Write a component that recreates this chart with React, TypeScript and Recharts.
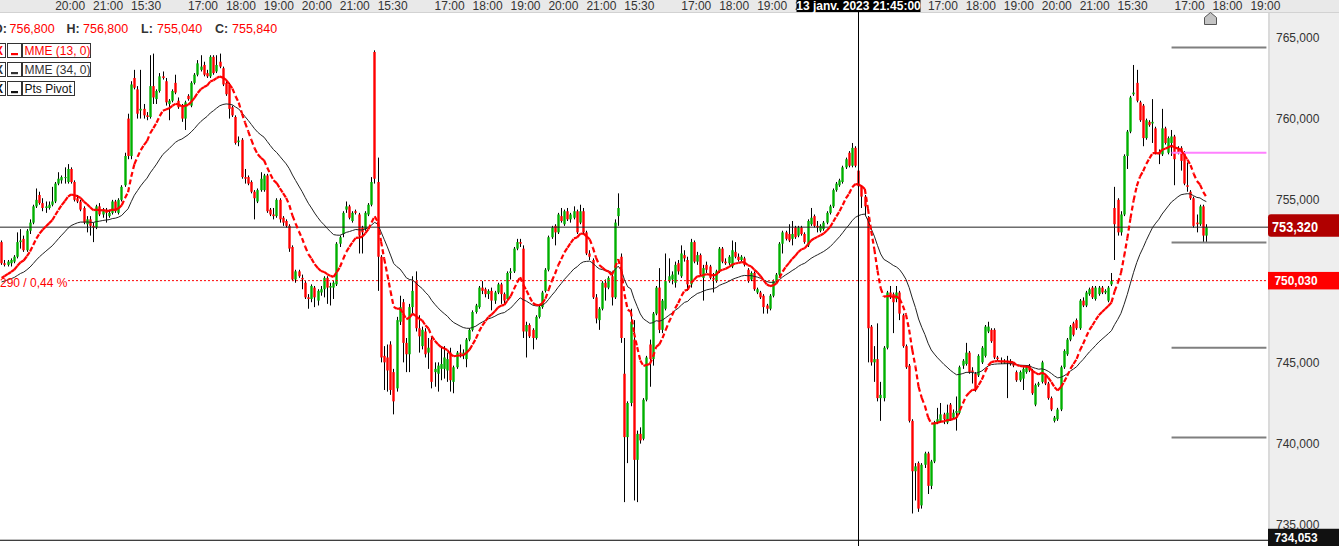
import React from "react";
import { ComposedChart, Bar, Line, XAxis, YAxis, ReferenceLine } from "recharts";

// 5 min candles, [open, high, low, close]
type Ohlc = [number, number, number, number];

const RED = "#ff0000";
const GREEN = "#00b000";
const FONT = 'Arial, "Liberation Sans", sans-serif';

const WIDTH = 1339;
const HEIGHT = 546;
const SLOTS = 401; // candles + empty future slots up to the right axis

// ── sessions ────────────────────────────────────────────────────────────────

// 10 janv. 18:40 -> 21:55
const jan10: Ohlc[] = [
  [752.4, 752.5, 751.0, 751.1], [751.1, 751.3, 750.9, 751.0], [751.0, 751.3, 750.9, 751.2], [751.1, 751.4, 750.9, 751.3],
  [751.2, 751.6, 751.1, 751.5], [751.5, 753.0, 751.4, 752.4], [752.4, 753.2, 752.0, 752.5], [752.6, 752.8, 751.8, 751.9],
  [751.9, 753.2, 751.8, 753.1], [753.1, 753.8, 752.9, 753.6], [753.6, 754.7, 753.5, 754.6], [754.6, 755.7, 754.5, 755.0],
  [755.3, 755.5, 754.7, 754.8], [754.8, 755.1, 754.3, 754.5], [754.5, 754.9, 754.2, 754.6], [754.5, 754.9, 754.4, 754.7],
  [754.7, 755.8, 754.6, 754.9], [754.9, 756.1, 754.8, 756.0], [756.0, 756.7, 755.9, 756.3], [756.2, 756.5, 756.0, 756.4],
  [756.4, 757.0, 756.0, 756.4], [756.1, 757.2, 756.0, 756.9], [756.9, 757.0, 756.0, 756.1], [756.1, 756.2, 754.9, 755.0],
  [755.1, 755.3, 754.8, 754.9], [754.9, 755.0, 754.3, 754.4], [754.5, 754.6, 753.5, 753.6], [753.5, 754.0, 753.0, 753.8],
  [753.8, 754.0, 752.8, 753.4], [753.4, 753.6, 752.4, 753.3], [753.3, 754.7, 753.2, 754.6], [754.6, 754.8, 754.0, 754.1],
  [754.1, 754.5, 753.9, 754.4], [754.3, 754.5, 753.6, 754.2], [754.0, 754.4, 753.9, 754.2], [754.2, 755.0, 754.1, 754.9],
  [754.9, 755.0, 754.2, 754.3], [754.2, 755.1, 754.1, 755.0], [755.0, 755.9, 754.9, 755.8], [755.9, 757.9, 755.8, 757.7],
];

// 11 janv. 15:30 -> 21:55
const jan11: Ohlc[] = [
  [760.0, 760.3, 757.5, 757.7], [757.7, 762.3, 757.5, 762.1], [762.5, 763.0, 761.8, 761.9], [761.8, 762.0, 760.0, 760.3],
  [760.5, 763.0, 760.0, 760.6], [760.6, 760.9, 760.0, 760.2], [760.2, 760.4, 759.9, 760.1], [760.1, 763.9, 760.0, 762.0],
  [762.0, 764.0, 760.9, 761.3], [761.2, 761.8, 760.9, 761.7], [761.7, 762.8, 761.6, 762.6], [762.6, 762.9, 762.4, 762.5],
  [762.3, 762.5, 760.8, 761.0], [760.9, 761.2, 759.9, 761.1], [761.1, 761.8, 761.0, 761.7], [762.2, 762.7, 761.5, 761.6],
  [761.1, 761.3, 760.6, 760.7], [760.8, 760.9, 759.8, 760.0], [760.0, 761.1, 759.3, 761.0], [761.4, 761.5, 761.1, 761.2],
  [760.8, 762.3, 760.7, 762.2], [762.2, 762.8, 762.1, 762.7], [762.7, 763.6, 762.6, 763.4], [763.0, 763.9, 762.9, 763.2],
  [763.3, 763.5, 762.6, 762.7], [762.8, 763.0, 762.5, 762.6], [762.6, 763.9, 762.5, 763.8], [763.8, 763.9, 762.7, 762.8],
  [762.9, 763.9, 762.8, 763.3], [763.5, 764.0, 763.1, 763.2], [763.1, 763.2, 762.0, 762.1], [762.2, 762.4, 761.4, 761.5],
  [762.1, 762.2, 760.0, 760.6], [760.7, 760.8, 760.1, 760.2], [760.1, 760.2, 758.4, 758.5], [758.55, 758.9, 758.3, 758.65],
  [758.7, 758.8, 756.3, 756.4], [756.4, 756.9, 756.0, 756.3], [756.4, 756.5, 755.9, 756.0], [756.1, 756.2, 755.4, 755.5],
  [755.5, 755.6, 753.8, 755.1], [754.9, 755.7, 754.8, 755.6], [755.6, 756.7, 755.5, 756.3], [755.6, 756.6, 755.5, 756.5],
  [756.5, 756.6, 754.2, 754.3], [754.4, 754.5, 754.0, 754.1], [754.1, 754.5, 753.8, 754.0], [754.0, 755.1, 753.9, 755.0],
  [755.0, 755.1, 753.6, 753.8], [753.9, 754.0, 753.4, 753.6], [753.7, 753.8, 753.3, 753.4], [753.4, 753.5, 751.8, 752.0],
  [752.1, 752.2, 750.0, 750.1], [750.1, 750.7, 749.9, 750.6], [750.6, 750.7, 750.2, 750.3], [750.2, 750.4, 749.5, 750.1],
  [749.9, 750.0, 748.9, 749.0], [749.0, 749.2, 748.3, 748.9], [748.9, 749.8, 748.7, 749.7], [749.6, 749.7, 748.4, 749.0],
  [748.8, 749.5, 748.5, 749.4], [749.3, 749.7, 749.1, 749.5], [749.5, 750.3, 749.0, 750.2], [750.2, 750.3, 748.6, 749.6],
  [749.6, 749.9, 748.5, 749.7], [749.6, 750.0, 748.9, 749.9], [749.8, 752.4, 749.7, 752.3], [752.3, 752.8, 752.1, 752.7],
  [752.9, 754.3, 752.7, 754.2], [754.4, 754.9, 754.2, 754.6], [754.6, 754.7, 753.8, 753.9], [753.7, 754.3, 753.6, 754.2],
  [754.3, 754.4, 754.1, 754.2], [754.1, 754.2, 751.7, 752.8], [753.3, 753.4, 751.7, 753.0], [753.2, 754.3, 753.1, 754.2],
  [754.1, 754.8, 754.0, 754.7], [754.7, 756.4, 754.6, 756.1],
];

// 12 janv.
const jan12: Ohlc[] = [
  [764.1, 764.2, 756.0, 756.3], [756.1, 757.6, 749.4, 751.5], [751.5, 751.6, 745.0, 745.3], [745.4, 746.0, 743.3, 745.0],
  [745.3, 746.1, 743.2, 744.5], [746.1, 746.3, 743.0, 743.3], [744.4, 744.6, 741.8, 742.6], [743.4, 747.8, 743.2, 747.6],
  [747.5, 749.1, 747.3, 748.4], [748.7, 748.9, 745.0, 746.2], [746.2, 746.5, 744.4, 745.5], [745.5, 748.6, 744.4, 748.4],
  [748.4, 750.3, 748.0, 749.4], [750.0, 750.6, 746.9, 747.1], [747.1, 747.9, 745.6, 746.6], [746.0, 747.2, 745.8, 747.0],
  [746.9, 747.1, 745.3, 745.5], [745.6, 746.5, 744.6, 745.9], [746.4, 746.6, 743.4, 743.8], [744.4, 745.0, 743.5, 744.6],
  [744.3, 745.0, 743.2, 744.8], [744.6, 746.0, 743.9, 744.9], [744.6, 746.0, 744.0, 745.3], [744.5, 745.6, 743.8, 745.2],
  [745.6, 745.9, 743.2, 743.9], [743.8, 744.8, 743.1, 744.7], [744.7, 745.7, 744.6, 745.6], [745.6, 746.1, 745.3, 745.5],
  [745.5, 745.8, 745.2, 745.6], [745.2, 746.5, 744.7, 746.4], [746.4, 747.1, 746.3, 747.0], [747.0, 748.2, 746.9, 748.1],
  [748.1, 748.6, 748.0, 748.5], [748.4, 749.7, 748.3, 749.6], [749.6, 750.0, 749.2, 749.4], [749.5, 749.6, 749.0, 749.2],
  [749.2, 749.5, 748.9, 749.4], [749.4, 749.6, 748.2, 748.8], [748.8, 749.4, 748.6, 749.3], [749.3, 749.9, 749.2, 749.8],
  [749.8, 749.9, 748.6, 749.2], [749.2, 749.3, 748.6, 748.8], [748.9, 750.6, 748.8, 750.5], [750.5, 750.8, 750.1, 750.6],
  [750.6, 752.1, 750.5, 752.0], [752.0, 752.6, 751.9, 752.4], [752.4, 752.6, 752.1, 752.3], [752.0, 752.2, 746.5, 746.9],
  [746.9, 747.5, 745.3, 747.3], [747.3, 747.4, 746.5, 746.6], [747.0, 747.1, 745.8, 746.5], [746.5, 747.9, 746.4, 747.8],
  [747.8, 748.5, 747.7, 748.4], [748.4, 749.4, 748.3, 749.3], [749.4, 750.8, 749.3, 750.7], [750.7, 752.8, 750.6, 752.7],
  [752.7, 753.4, 752.6, 753.3], [753.4, 753.5, 752.2, 753.0], [753.0, 754.2, 752.9, 754.1], [754.0, 754.5, 753.6, 753.7],
  [753.5, 754.4, 753.4, 754.3], [754.3, 754.5, 753.7, 753.8], [753.8, 754.2, 753.6, 754.1], [753.9, 754.6, 753.8, 754.3],
  [754.3, 754.4, 752.9, 753.0], [753.6, 754.7, 753.5, 754.3], [754.3, 754.5, 752.9, 753.0], [753.0, 753.1, 751.6, 751.7],
  [751.7, 751.9, 751.3, 751.5], [751.3, 751.4, 748.9, 749.0], [749.0, 749.2, 747.4, 747.7], [747.6, 748.4, 747.0, 748.3],
  [748.3, 750.0, 748.2, 749.9], [749.9, 750.1, 748.8, 749.6], [749.6, 750.3, 749.5, 750.2], [750.3, 750.5, 748.5, 749.0],
  [749.0, 753.8, 748.9, 753.6], [754.0, 755.4, 753.4, 754.5],
];

// 13 janv.
const jan13: Ohlc[] = [
  [751.5, 751.7, 746.2, 746.5], [744.3, 746.5, 736.4, 740.4], [740.4, 742.6, 738.8, 742.5], [742.5, 748.3, 742.3, 747.5],
  [746.4, 747.6, 736.5, 739.0], [739.0, 740.8, 736.4, 740.6], [740.6, 741.0, 740.0, 740.2], [740.3, 742.8, 740.2, 742.7],
  [742.7, 745.4, 742.6, 745.3], [746.1, 746.4, 743.5, 745.2], [745.2, 748.1, 744.8, 748.0], [748.0, 749.7, 747.9, 749.6],
  [749.6, 750.8, 746.8, 747.0], [747.0, 748.9, 746.8, 748.8], [748.3, 751.7, 748.2, 750.0], [750.0, 751.4, 749.9, 750.3],
  [750.1, 750.6, 749.8, 750.4], [749.9, 751.2, 749.6, 751.0], [751.1, 751.3, 750.4, 750.6], [750.3, 752.2, 750.2, 751.7],
  [751.6, 751.9, 751.2, 751.4], [751.3, 751.5, 749.4, 749.8], [749.8, 752.6, 749.6, 752.4], [752.4, 752.5, 751.1, 751.2],
  [751.2, 751.8, 751.0, 751.6], [751.6, 751.7, 750.3, 750.4], [750.2, 751.0, 748.8, 750.8], [751.0, 751.2, 750.5, 750.7],
  [750.9, 751.0, 750.1, 750.2], [750.2, 750.5, 749.3, 750.1], [750.0, 750.7, 749.9, 750.6], [750.6, 752.1, 750.5, 752.0],
  [752.0, 752.1, 751.1, 751.2], [751.2, 751.4, 751.0, 751.1], [751.1, 751.6, 751.0, 751.5], [750.9, 752.5, 750.8, 751.9],
  [751.8, 752.4, 751.4, 751.5], [751.5, 751.7, 751.2, 751.3], [751.3, 751.6, 751.2, 751.5], [751.4, 751.5, 750.9, 751.0],
  [750.7, 750.8, 749.9, 750.0], [750.1, 750.6, 750.0, 750.5], [750.5, 750.6, 749.4, 749.5], [749.3, 749.6, 749.2, 749.5],
  [749.3, 749.4, 748.9, 749.0], [749.1, 749.2, 748.0, 748.4], [748.5, 748.6, 748.0, 748.3], [748.3, 749.2, 748.2, 749.1],
  [749.1, 750.1, 749.0, 750.0], [750.0, 750.5, 749.9, 750.4], [750.4, 752.4, 750.3, 752.3], [752.3, 753.1, 751.7, 753.0],
  [753.0, 753.1, 752.5, 752.6], [752.9, 753.5, 752.4, 752.5], [752.6, 753.7, 752.2, 752.9], [753.3, 753.4, 752.6, 752.7],
  [752.8, 753.4, 752.7, 753.3], [753.3, 753.4, 752.8, 752.9], [752.9, 753.0, 752.3, 752.4], [752.2, 753.8, 752.1, 753.7],
  [753.5, 754.5, 753.4, 753.9], [754.0, 754.1, 753.3, 753.4], [753.4, 753.7, 753.0, 753.3], [753.1, 753.5, 753.0, 753.4],
  [753.2, 753.7, 753.1, 753.6], [753.6, 754.3, 753.5, 754.2], [754.2, 754.7, 754.1, 754.6], [754.6, 755.7, 754.5, 755.6],
  [755.6, 756.1, 755.5, 756.0], [755.9, 756.3, 755.8, 756.2], [756.1, 757.1, 756.0, 757.0], [757.0, 757.6, 756.9, 757.5],
  [757.9, 758.0, 757.0, 757.1], [757.1, 758.5, 757.0, 758.2], [758.2, 758.3, 757.0, 757.1], [756.8, 756.8, 755.04, 755.84],
  [755.8, 755.9, 754.5, 755.2], [755.2, 755.3, 754.0, 754.6],
];

// 17 janv.
const jan17: Ohlc[] = [
  [753.9, 754.0, 745.0, 747.1], [747.2, 747.3, 744.8, 745.0], [745.0, 746.0, 743.8, 745.2], [745.2, 747.4, 742.6, 742.8],
  [742.8, 743.8, 741.4, 743.0], [742.8, 746.0, 742.6, 745.9], [745.9, 749.4, 745.8, 749.3], [749.3, 749.7, 748.9, 749.1],
  [749.2, 749.3, 746.8, 748.7], [748.9, 749.7, 748.7, 749.3], [749.3, 749.4, 747.6, 748.0], [747.9, 748.0, 745.9, 746.0],
  [746.0, 746.1, 744.6, 744.7], [744.8, 744.9, 741.3, 741.4], [741.4, 741.5, 735.7, 738.3], [738.3, 738.8, 736.5, 738.6],
  [738.8, 738.9, 735.8, 736.0], [736.2, 738.8, 736.0, 738.7], [738.7, 739.5, 738.5, 739.4], [739.4, 739.5, 736.9, 737.4],
  [737.4, 739.0, 737.2, 738.9], [738.9, 741.4, 738.8, 741.3], [741.3, 742.2, 741.2, 741.5], [741.4, 742.5, 741.3, 741.8],
  [741.8, 741.9, 741.2, 741.5], [741.3, 742.4, 741.2, 741.9], [742.4, 742.5, 741.4, 741.5], [741.6, 742.1, 741.5, 741.9],
  [741.9, 742.9, 740.8, 742.0], [741.9, 744.8, 741.8, 744.7], [744.8, 745.2, 744.6, 745.1], [744.9, 746.2, 744.8, 745.6],
  [745.6, 745.7, 744.3, 744.4], [744.5, 744.7, 743.7, 744.4], [744.3, 744.4, 743.2, 743.3], [744.2, 745.5, 744.1, 745.4],
  [745.0, 746.0, 744.9, 745.9], [745.4, 747.3, 745.3, 747.2], [746.9, 747.5, 746.8, 747.2], [747.0, 747.1, 746.2, 746.3],
  [747.0, 747.1, 745.2, 745.3], [745.3, 745.4, 745.1, 745.2], [745.1, 745.3, 744.9, 745.0], [745.0, 745.2, 744.9, 745.0],
  [745.1, 745.4, 742.8, 745.0], [745.0, 745.2, 744.8, 744.9], [744.9, 745.0, 744.7, 744.8], [744.4, 744.5, 743.8, 743.9],
  [743.9, 744.5, 743.8, 744.4], [744.0, 744.7, 743.3, 744.6], [744.4, 744.8, 744.3, 744.7], [744.8, 744.9, 744.4, 744.5],
  [744.5, 744.6, 743.0, 743.1], [742.4, 743.7, 742.3, 743.6], [743.6, 743.8, 743.5, 743.7], [743.8, 745.1, 743.7, 745.0],
  [744.2, 744.3, 743.6, 743.7], [743.7, 743.8, 742.7, 742.8], [742.8, 742.9, 742.0, 742.1], [741.4, 741.7, 741.3, 741.6],
  [741.5, 742.2, 741.4, 742.1], [742.1, 744.8, 742.0, 744.7], [744.7, 745.8, 744.6, 745.7], [745.5, 746.5, 745.4, 746.4],
  [746.4, 747.3, 746.3, 747.2], [747.4, 747.5, 746.6, 746.7], [747.6, 747.7, 747.0, 747.1], [747.1, 748.9, 747.0, 748.8],
  [748.8, 749.0, 748.4, 748.5], [748.5, 749.4, 748.4, 749.3], [749.2, 749.6, 749.1, 749.5], [749.6, 749.7, 748.9, 749.0],
  [748.9, 749.7, 748.8, 749.6], [749.2, 749.7, 749.1, 749.6], [749.6, 749.7, 749.2, 749.3], [749.3, 749.5, 749.2, 749.4],
  [748.8, 749.7, 748.7, 749.6], [749.8, 750.5, 749.7, 750.0],
];

// 18 janv. 15:30 -> 17:55
const jan18: Ohlc[] = [
  [754.5, 755.8, 751.3, 753.5], [755.0, 755.1, 752.8, 753.0], [753.0, 754.3, 752.8, 754.1], [754.1, 757.8, 754.0, 757.7],
  [757.7, 759.3, 756.9, 759.2], [759.2, 761.4, 759.1, 761.3], [761.5, 763.3, 761.4, 761.6], [762.2, 763.0, 761.0, 761.1],
  [761.0, 761.1, 759.8, 759.9], [760.8, 760.9, 758.3, 758.8], [758.8, 760.0, 758.7, 759.9], [759.8, 759.9, 759.5, 759.6],
  [759.7, 761.2, 758.5, 759.8], [759.4, 759.5, 757.8, 757.9], [757.9, 758.1, 757.2, 757.8], [757.8, 760.6, 757.7, 759.4],
  [759.4, 759.5, 758.4, 758.5], [757.9, 758.9, 757.8, 758.8], [758.5, 759.3, 757.7, 758.9], [758.9, 759.0, 755.9, 757.5],
  [758.2, 758.3, 757.8, 757.9], [758.2, 758.3, 756.8, 757.4], [757.9, 758.0, 755.9, 756.0], [755.9, 757.3, 755.5, 755.8],
  [755.5, 755.6, 755.0, 755.1], [755.1, 755.2, 753.3, 753.4], [753.6, 754.1, 753.0, 753.5], [753.5, 754.7, 753.4, 754.6],
  [754.6, 754.7, 752.4, 752.8], [752.8, 753.5, 752.4, 753.32],
];

const sessions = [jan10, jan11, jan12, jan13, jan17, jan18];

// EMA levels at the left edge of the chart (warm-up before the first visible candle)
const EMA13_START = 750.05;
const EMA34_START = 749.88;

// top time scale: [slot, label] (21:00 and 15:30 behind the crosshair date are not drawn)
const timeTicks: [number, string][] = [
  [16, "20:00"], [28, "21:00"],
  [40, "15:30"], [58, "17:00"], [70, "18:00"], [82, "19:00"], [94, "20:00"], [106, "21:00"],
  [118, "15:30"], [136, "17:00"], [148, "18:00"], [160, "19:00"], [172, "20:00"], [184, "21:00"],
  [196, "15:30"], [214, "17:00"], [226, "18:00"], [238, "19:00"], [250, "20:00"],
  [292, "17:00"], [304, "18:00"], [316, "19:00"], [328, "20:00"], [340, "21:00"],
  [352, "15:30"], [370, "17:00"], [382, "18:00"], [394, "19:00"],
];

const priceTicks = [735, 740, 745, 750, 755, 760, 765];
const PRICE_MIN = 733.7;
const PRICE_MAX = 766.56;

const LAST = 753.32;
const PREV_CLOSE = 750.03;
const PREV_CLOSE_TEXT = "+3,290 / 0,44 %";
const PREV_CLOSE_FROM = 21;
const CROSS_I = 271;
const CROSS_Y = 734.053;
const CROSS_LABEL = "13 janv. 2023 21:45:00";

const pivotLevels = [764.37, 752.37, 745.9, 740.37];
const pivotMid = 757.9;
const PIVOT_FROM = 370;

const legendNames = ["MME (13, 0)", "MME (34, 0)", "Pts Pivot"];

// ── table ───────────────────────────────────────────────────────────────────

const candles = sessions.flat();

const rows: any[] = [];
{
  let e13 = EMA13_START;
  let e34 = EMA34_START;
  for (let i = 0; i < SLOTS; i++) {
    const k = candles[i];
    if (!k) {
      rows.push({ i, range: null, e13: null, e34: null });
      continue;
    }
    const [o, h, l, c] = k;
    e13 += ((c - e13) * 2) / 14;
    e34 += ((c - e34) * 2) / 35;
    const hi = Math.max(h, o, c);
    const lo = Math.min(l, o, c);
    rows.push({ i, o, h: hi, l: lo, c, range: [lo, hi], e13, e34 });
  }
}

const tickLabel = new Map(timeTicks);
const fmt = (v: number) => v.toFixed(3).replace(".", ",");

// ── shapes ──────────────────────────────────────────────────────────────────

function CandleShape(props: any) {
  const { x, y, width, height, payload } = props;
  if (!payload || payload.o == null || !Number.isFinite(y)) return <g />;
  const { o, h, l, c } = payload;
  const span = h - l;
  const toY = (p: number) => (span > 0 ? y + ((h - p) / span) * height : y);
  const cx = Math.floor(x + width / 2) + 0.5;
  const top = toY(Math.max(o, c));
  const bot = toY(Math.min(o, c));
  return (
    <g>
      <line x1={cx} x2={cx} y1={y} y2={y + height} stroke="#000" strokeWidth={1} />
      <rect x={cx - 1.2} y={top} width={2.4} height={Math.max(bot - top, 1)} fill={c >= o ? GREEN : RED} />
    </g>
  );
}

// MME 13 is drawn segment by segment, the dash restarts at every candle
let lastPt: { x: number; y: number } | null = null;
function SegmentDot(p: any) {
  const key = `seg-${p.index}`;
  const prev = p.points ? p.points[p.index - 1] : p.index > 0 ? lastPt : null;
  lastPt = p.cy == null ? null : { x: p.cx, y: p.cy };
  if (!prev || prev.y == null || p.cy == null) return <g key={key} />;
  return (
    <line key={key} x1={prev.x} y1={prev.y} x2={p.cx} y2={p.cy}
      stroke={RED} strokeWidth={2.2} strokeDasharray="5 3" />
  );
}

function TimeTick({ x, y, payload }: any) {
  const v = payload.value;
  if (v === CROSS_I) {
    return (
      <g>
        <rect x={x - 62} y={y - 12} width={124} height={12} fill="#000" />
        <text x={x} y={y - 2.3} textAnchor="middle" fill="#fff" fontSize={12} fontWeight="bold" fontFamily={FONT}>
          {CROSS_LABEL}
        </text>
      </g>
    );
  }
  return (
    <text x={x + 18} y={y - 2.5} textAnchor="middle" fill="#333" fontSize={12} fontFamily={FONT}>
      {tickLabel.get(v)}
    </text>
  );
}

function PriceTick({ x, y, payload }: any) {
  const v = payload.value;
  const edge = x - 8;
  if (v === LAST) {
    return (
      <g>
        <rect x={edge} y={y - 13} width={WIDTH - edge + 4} height={22.5} rx={3} fill="#b00000" />
        <text x={edge + 4} y={y + 4.6} fill="#fff" fontSize={14.5} fontWeight="bold" fontFamily={FONT}
          textLength={46} lengthAdjust="spacingAndGlyphs">
          {fmt(v)}
        </text>
      </g>
    );
  }
  if (v === PREV_CLOSE || v === CROSS_Y) {
    const top = v === CROSS_Y ? y - 11.5 : y - 8.7;
    return (
      <g>
        <rect x={edge} y={top} width={WIDTH - edge + 4} height={17.5} fill={v === PREV_CLOSE ? RED : "#111"} />
        <text x={edge + 6.5} y={top + 13} fill="#fff" fontSize={12.5} fontWeight="bold" fontFamily={FONT}
          textLength={43} lengthAdjust="spacingAndGlyphs">
          {fmt(v)}
        </text>
      </g>
    );
  }
  return (
    <text x={x} y={y + 4.3} fill="#333" fontSize={12} fontFamily={FONT}>
      {fmt(v)}
    </text>
  );
}

// ── overlay: OHLC readout + indicator list ──────────────────────────────────

function Overlay() {
  const [o, h, l, c] = candles[CROSS_I];
  const readout: [string, number, number, number][] = [
    ["O:", o, -7, 9.5], ["H:", h, 66.5, 83], ["L:", l, 141, 157], ["C:", c, 215, 232],
  ];
  const legendColor = [RED, "#333", "#111"];
  const legendW = [68, 68, 52];
  return (
    <svg width={WIDTH} height={HEIGHT} style={{ position: "absolute", left: 0, top: 0, pointerEvents: "none" }}>
      {readout.map(([k, v, kx, vx]) => (
        <g key={k} fontFamily={FONT} fontSize={12.5}>
          <text x={kx} y={33} fill="#333" fontWeight="bold">{k}</text>
          <text x={vx} y={33} fill={RED}>{fmt(v)}</text>
        </g>
      ))}
      {legendNames.map((name, r) => {
        const top = 43.5 + r * 19;
        const col = legendColor[r];
        return (
          <g key={name} fontFamily={FONT}>
            <rect x={-8.5} y={top} width={14} height={14} fill="#fff" stroke="#333" />
            <text x={-1} y={top + 11} textAnchor="middle" fontSize={12} fontWeight="bold" fill={col}>X</text>
            <rect x={7.5} y={top} width={14} height={14} fill="#fff" stroke="#333" />
            <rect x={11} y={top + 9.5} width={7} height={2.2} fill={col} />
            <rect x={22.5} y={top} width={legendW[r]} height={14} fill="#fff" stroke="#333" />
            <text x={24.5} y={top + 11.3} fontSize={12} fill={col}>{name}</text>
          </g>
        );
      })}
      <text x={-17} y={287.3} fontFamily={FONT} fontSize={12} fill={RED}>{PREV_CLOSE_TEXT}</text>
      <path d="M1204.5 24.5 V17.5 L1210.5 12.5 L1216.5 17.5 V24.5 Z" fill="#c4c4c4" stroke="#555" />
    </svg>
  );
}

export default function App() {
  return (
    <div style={{ position: "fixed", left: 0, top: 0, width: WIDTH, height: HEIGHT, background: "#fff",
      overflow: "hidden", fontFamily: FONT }}>
      <div style={{ position: "absolute", left: 0, top: 0, width: WIDTH, height: 12, background: "#e9e9e9",
        borderBottom: "1px solid #d2d2d2" }} />
      <div style={{ position: "absolute", left: 1268, top: 13, width: 71, height: HEIGHT - 13, background: "#eeeeee",
        borderLeft: "2px solid #dadada", boxSizing: "border-box" }} />
      <div style={{ position: "absolute", left: 0, top: 0 }}>
        <ComposedChart width={WIDTH} height={HEIGHT} data={rows} margin={{ top: 0, right: 0, bottom: 0, left: 0 }}>
          <XAxis dataKey="i" type="category" orientation="top" height={12} interval={0}
            ticks={[...timeTicks.map((t) => t[0]), CROSS_I]} tick={<TimeTick />}
            axisLine={false} tickLine={false} tickSize={0} tickMargin={0} />
          <YAxis type="number" orientation="right" width={71} domain={[PRICE_MIN, PRICE_MAX]} allowDataOverflow
            ticks={[...priceTicks, CROSS_Y, PREV_CLOSE, LAST]} interval={0} tick={<PriceTick />}
            axisLine={false} tickLine={false} tickSize={6} tickMargin={2} />

          <ReferenceLine y={LAST} stroke="#222" strokeWidth={1} ifOverflow="visible" />
          <ReferenceLine segment={[{ x: PREV_CLOSE_FROM, y: PREV_CLOSE }, { x: SLOTS - 1, y: PREV_CLOSE }]}
            stroke={RED} strokeWidth={1} strokeDasharray="2 2" />
          {pivotLevels.map((p) => (
            <ReferenceLine key={p} segment={[{ x: PIVOT_FROM, y: p }, { x: SLOTS - 1, y: p }]}
              stroke="#7f7f7f" strokeWidth={2} />
          ))}
          <ReferenceLine segment={[{ x: PIVOT_FROM, y: pivotMid }, { x: SLOTS - 1, y: pivotMid }]}
            stroke="#ff80ff" strokeWidth={2} />

          <Bar dataKey="range" shape={<CandleShape />} isAnimationActive={false} />
          <Line dataKey="e34" type="linear" stroke="#222" strokeWidth={1} dot={false} activeDot={false}
            isAnimationActive={false} />
          <Line dataKey="e13" type="linear" stroke="none" dot={SegmentDot} activeDot={false}
            isAnimationActive={false} />

          <ReferenceLine x={CROSS_I} stroke="#000" strokeWidth={1} />
          <ReferenceLine y={CROSS_Y} stroke="#000" strokeWidth={1} />
        </ComposedChart>
      </div>
      <Overlay />
    </div>
  );
}
